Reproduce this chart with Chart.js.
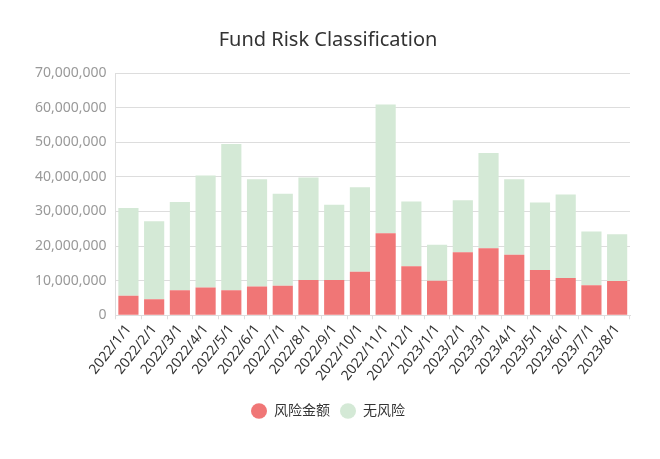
<!DOCTYPE html>
<html><head><meta charset="utf-8">
<script src="https://cdn.jsdelivr.net/npm/chart.js@4/dist/chart.umd.min.js"></script>
<style>html,body{margin:0;padding:0;background:#fff}#wrap{width:660px;height:459px}</style>
</head><body><div id="wrap"><canvas id="c"></canvas></div>
<script>
const categories = ["2022/1/1","2022/2/1","2022/3/1","2022/4/1","2022/5/1","2022/6/1","2022/7/1","2022/8/1","2022/9/1","2022/10/1","2022/11/1","2022/12/1","2023/1/1","2023/2/1","2023/3/1","2023/4/1","2023/5/1","2023/6/1","2023/7/1","2023/8/1"];
const riskAmount = [5650000,4600000,7200000,8000000,7200000,8300000,8500000,10200000,10200000,12600000,23700000,14200000,10000000,18200000,19400000,17500000,13100000,10800000,8700000,9900000];
const noRisk = [25350000,22600000,25500000,32400000,42300000,31000000,26600000,29600000,21700000,24400000,37200000,18700000,10400000,15000000,27500000,21800000,19500000,24100000,15500000,13500000];
const font = "'Noto Sans','Noto Sans CJK SC',sans-serif";
new Chart(document.getElementById('c'), {
  type: 'bar',
  data: {
    labels: categories,
    datasets: [
      {label: '风险金额', data: riskAmount, backgroundColor: '#F07676'},
      {label: '无风险', data: noRisk, backgroundColor: '#D4E9D6'}
    ]
  },
  options: {
    responsive: true, maintainAspectRatio: false, animation: false,
    layout: {padding: {left: 26, right: 30, top: 14, bottom: 31}},
    datasets: {bar: {categoryPercentage: 0.8, barPercentage: 0.98}},
    plugins: {
      title: {display: true, text: 'Fund Risk Classification', color: '#333', font: {family: font, size: 20, weight: 'normal'}, padding: {top: 14, bottom: 21}},
      legend: {position: 'bottom', labels: {usePointStyle: true, pointStyle: 'circle', pointStyleWidth: 16, boxHeight: 11, padding: 10, color: '#333', font: {family: font, size: 14}}},
      tooltip: {enabled: false}
    },
    scales: {
      x: {stacked: true,
        afterFit: s => { s.height += 8; },
        grid: {drawOnChartArea: false, color: '#ddd', tickLength: 4},
        border: {color: '#ddd'},
        ticks: {color: '#333', font: {family: font, size: 14}, maxRotation: 52, minRotation: 52, padding: 2}},
      y: {stacked: true, min: 0, max: 70000000,
        grid: {color: '#ddd', drawTicks: false},
        border: {display: true, color: '#ddd'},
        ticks: {stepSize: 10000000, color: '#999', font: {family: font, size: 14}, padding: 9,
          callback: v => v.toLocaleString('en-US')}}
    }
  }
});
</script></body></html>
